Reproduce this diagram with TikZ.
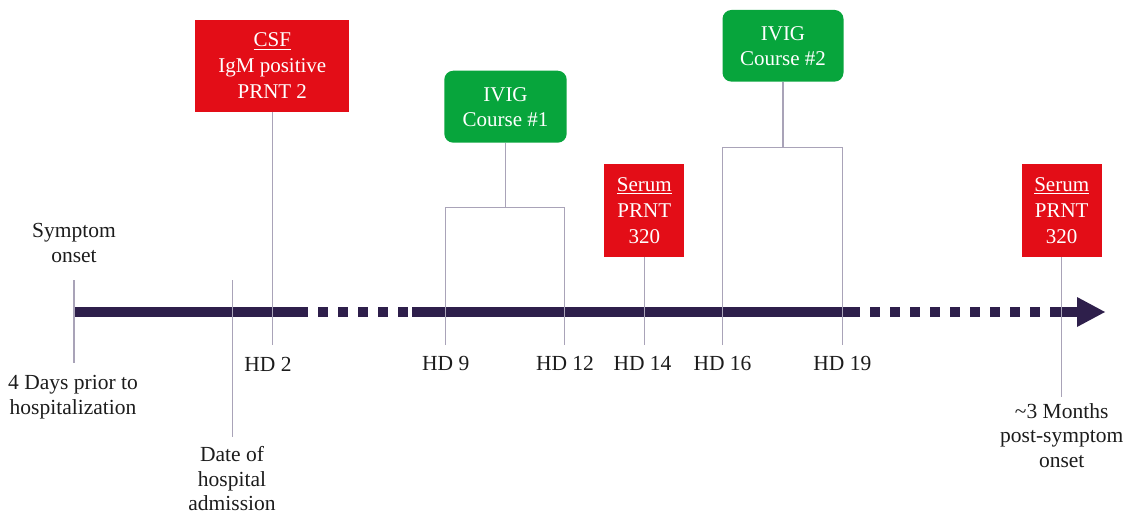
\documentclass[tikz,border=0pt]{standalone}
\usepackage{fontspec}
\setmainfont{Liberation Serif}
\definecolor{boxred}{HTML}{E30D17}
\definecolor{boxgreen}{HTML}{07A53C}
\definecolor{axiscol}{HTML}{2E1F4B}
\definecolor{linkcol}{HTML}{A9A3B8}
\definecolor{labcol}{HTML}{1C1C1C}
\newcommand\ulbox[1]{\setbox0\hbox{#1}\rlap{\rule[-3pt]{\wd0}{1.1pt}}\box0}
\begin{document}
\begin{tikzpicture}[x=1pt,y=-1pt,
  redbox/.style={fill=boxred, draw=none, text=white, align=center, inner sep=0pt, font=\fontsize{21}{26}\selectfont},
  greenbox/.style={fill=boxgreen, draw=none, rounded corners=9pt, text=white, align=center, inner sep=0pt, font=\fontsize{21}{25}\selectfont},
  lab/.style={text=labcol, align=center, inner sep=0pt, anchor=base, font=\fontsize{21.5}{24.5}\selectfont},
  link/.style={draw=linkcol, line width=1.5pt},
  axisline/.style={draw=axiscol, line width=10pt},
  axisdash/.style={axisline, dash pattern=on 10pt off 10pt}]
\useasboundingbox (0,0) rectangle (1125,516);

% event boxes
\node[redbox, minimum width=154pt, minimum height=91.7pt] (csf) at (272.3,65.8) {\ulbox{CSF}\\IgM positive\\PRNT 2};
\node[greenbox, minimum width=122.4pt, minimum height=72pt] (ivig1) at (505.5,106.7) {IVIG\\Course \#1};
\node[greenbox, minimum width=121pt, minimum height=71.7pt] (ivig2) at (783,45.8) {IVIG\\Course \#2};
\node[redbox, minimum width=80.3pt, minimum height=92.7pt] (serum1) at (644.3,210.3) {\ulbox{Serum}\\PRNT\\320};
\node[redbox, minimum width=80pt, minimum height=92.7pt] (serum2) at (1061.7,210.3) {\ulbox{Serum}\\PRNT\\320};

% axis
\coordinate (a0) at (73,312);
\coordinate (a1) at (308,312);
\coordinate (d1s) at (318,312);
\coordinate (d1e) at (408,312);
\coordinate (a2) at (412,312);
\coordinate (a3) at (860,312);
\coordinate (d2s) at (870,312);
\coordinate (d2e) at (1040,312);
\coordinate (sh) at (1050,312);
\coordinate (hb) at (1077,312);
\coordinate (tip) at (1105,312);
\draw[axisline] (a0) -- (a1);
\draw[axisdash] (d1s) -- (d1e);
\draw[axisline] (a2) -- (a3);
\draw[axisdash] (d2s) -- (d2e);
\draw[axisline] (sh) -- ([xshift=0.5pt]hb);
\fill[axiscol] ([yshift=15pt]hb) -- (tip) -- ([yshift=-15pt]hb) -- cycle;

% ticks
\coordinate (hdbase) at (0,345);
\coordinate (so1) at (74,280);
\coordinate (so2) at (74,363.3);
\coordinate (ad1) at (232.3,280);
\coordinate (ad2) at (232.3,436.7);
\coordinate (b1l) at (445.7,207.7);
\coordinate (b1r) at (564.3,207.7);
\coordinate (b2l) at (722.7,147.7);
\coordinate (b2r) at (842.3,147.7);
\coordinate (m3) at (1061.7,396.7);

\draw[link] (so1) -- (so2);
\draw[link] (ad1) -- (ad2);
\draw[link] (csf.south) -- (csf.south |- hdbase);
\draw[link] (b1l |- hdbase) -- (b1l) -- (b1r) -- (b1r |- hdbase);
\draw[link] (ivig1.south) -- (ivig1.south |- b1l);
\draw[link] (serum1.south) -- (serum1.south |- hdbase);
\draw[link] (b2l |- hdbase) -- (b2l) -- (b2r) -- (b2r |- hdbase);
\draw[link] (ivig2.south) -- (ivig2.south |- b2l);
\draw[link] (serum2.south) -- (m3);

% labels (anchor = baseline of the last line)
\node[lab] (lsym) at (74,262) {Symptom\\onset};
\node[lab] (l4d) at (73,414) {4 Days prior to\\hospitalization};
\node[lab] (lhd2) at (268,371) {HD 2};
\node[lab] (lhd9) at (445.7,370) {HD 9};
\node[lab] (lhd12) at (565,370) {HD 12};
\node[lab] (lhd14) at (642.5,370) {HD 14};
\node[lab] (lhd16) at (722.5,370) {HD 16};
\node[lab] (lhd19) at (842.3,370) {HD 19};
\node[lab] (ldate) at (232,510.5) {Date of\\hospital\\admission};
\node[lab] (l3m) at (1061.7,467) {\textasciitilde3 Months\\post-symptom\\onset};
\end{tikzpicture}
\end{document}
